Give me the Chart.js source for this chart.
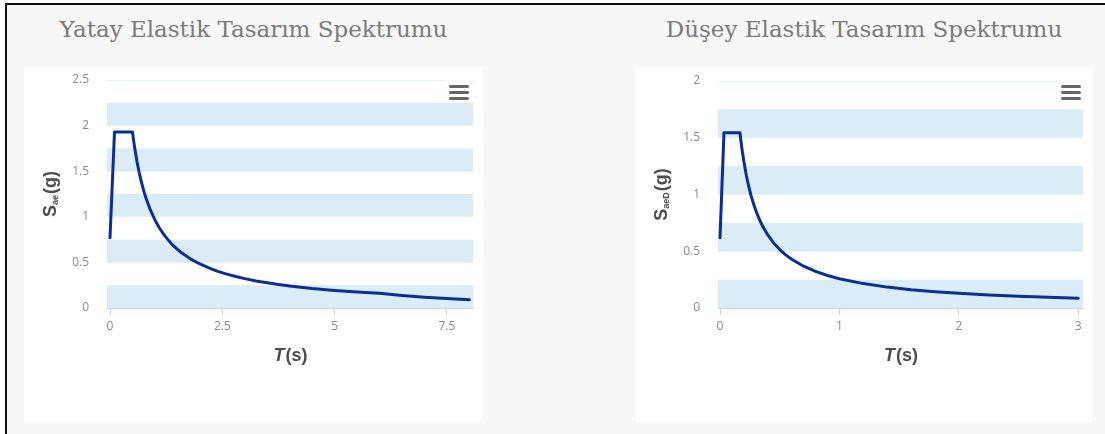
<!DOCTYPE html>
<html><head><meta charset="utf-8">
<script src="https://cdn.jsdelivr.net/npm/chart.js@4.4.1/dist/chart.umd.min.js"></script>
<style>
html,body{margin:0;padding:0;background:#fff;width:1105px;height:434px;overflow:hidden;}
#frame{position:absolute;left:5px;top:3px;width:1100px;height:431px;background:#f7f7f7;border-left:2px solid #111;border-top:2px solid #111;box-sizing:border-box;}
.panel{position:absolute;top:67px;height:355px;background:#fff;}
.panel canvas{position:absolute;left:0;top:0;}
.ttl{position:absolute;top:14px;height:30px;line-height:30px;font-family:'DejaVu Serif',serif;font-size:23px;color:#7b7b7b;text-align:center;white-space:nowrap;}
.menu{position:absolute;width:27px;height:24px;background:#fff;}
.menu i{position:absolute;left:4px;width:20px;height:3px;border-radius:1.5px;background:#666;}
</style></head>
<body>
<div id="frame"></div>
<div class="ttl" style="left:24px;width:459px;">Yatay Elastik Tasarım Spektrumu</div>
<div class="ttl" style="left:635px;width:458px;">Düşey Elastik Tasarım Spektrumu</div>
<div class="panel" style="left:24px;width:459px;"><canvas id="cH" width="459" height="355"></canvas></div>
<div class="panel" style="left:635px;width:458px;"><canvas id="cV" width="458" height="355"></canvas></div>
<div class="menu" style="left:445px;top:77px;"><i style="top:8px"></i><i style="top:14px"></i><i style="top:20px"></i></div>
<div class="menu" style="left:1057px;top:77px;"><i style="top:8px"></i><i style="top:14px"></i><i style="top:20px"></i></div>
<script>
// Horizontal elastic design spectrum
const tH = [0, 0.1, 0.5, 0.525, 0.55, 0.6, 0.65, 0.7, 0.75, 0.8, 0.9, 1.0, 1.1, 1.2, 1.3, 1.4, 1.5, 1.6, 1.8, 2.0, 2.2, 2.4, 2.6, 2.8, 3.0, 3.25, 3.5, 3.75, 4.0, 4.5, 5.0, 5.5, 6.0, 6.5, 7.0, 7.5, 8.0];
const saeH = [0.77, 1.93, 1.93, 1.838, 1.755, 1.608, 1.485, 1.379, 1.287, 1.206, 1.072, 0.965, 0.877, 0.804, 0.742, 0.689, 0.643, 0.603, 0.536, 0.483, 0.439, 0.402, 0.371, 0.345, 0.322, 0.297, 0.276, 0.257, 0.241, 0.214, 0.193, 0.175, 0.161, 0.137, 0.118, 0.103, 0.091];
// Vertical elastic design spectrum
const tV = [0, 0.033, 0.167, 0.175, 0.185, 0.2, 0.22, 0.24, 0.26, 0.28, 0.3, 0.33, 0.36, 0.4, 0.45, 0.5, 0.55, 0.6, 0.7, 0.8, 0.9, 1.0, 1.2, 1.4, 1.6, 1.8, 2.0, 2.25, 2.5, 2.75, 3.0];
const saeV = [0.62, 1.545, 1.545, 1.471, 1.392, 1.288, 1.170, 1.073, 0.990, 0.920, 0.858, 0.780, 0.715, 0.644, 0.572, 0.515, 0.468, 0.429, 0.368, 0.322, 0.286, 0.258, 0.215, 0.184, 0.161, 0.143, 0.129, 0.114, 0.103, 0.094, 0.086];
// axis ticks
const xTicksH = [0, 2.5, 5, 7.5];
const xTicksV = [0, 1, 2, 3];
const yMaxH = 2.5, yMaxV = 2;
const yStep = 0.5;
// alternating plot bands
const bandsH = [[0, 0.25], [0.5, 0.75], [1, 1.25], [1.5, 1.75], [2, 2.25]];
const bandsV = [[0, 0.25], [0.5, 0.75], [1, 1.25], [1.5, 1.75]];

const LINE = '#0c2e93';
const TICKC = '#8a8a8a';
const AXC = '#ccd6eb';

const bandPlugin = {
  id: 'bands',
  beforeDraw(chart, args, opts) {
    const {ctx, chartArea: a, scales: {y}} = chart;
    ctx.save();
    ctx.fillStyle = '#daedf7';
    for (const [from, to] of opts.bands) {
      const y1 = y.getPixelForValue(to), y0 = y.getPixelForValue(from);
      ctx.fillRect(a.left, y1, a.right - a.left, y0 - y1);
    }
    ctx.restore();
  }
};

const titlePlugin = {
  id: 'axtitles',
  afterDraw(chart, args, opts) {
    const {ctx, chartArea: a} = chart;
    ctx.save();
    ctx.fillStyle = '#4d4d4d';
    ctx.textBaseline = 'alphabetic';
    const big = 'bold 18px "Liberation Sans", Arial, sans-serif';
    const bigI = 'italic bold 18px "Liberation Sans", Arial, sans-serif';
    const small = 'bold 9px "Liberation Sans", Arial, sans-serif';
    ctx.font = big; const wS = ctx.measureText('S').width; const wG = ctx.measureText('(g)').width;
    ctx.font = small; const wSub = ctx.measureText(opts.sub).width;
    const tot = wS + wSub + 1 + wG;
    ctx.translate(opts.yTitleX, (a.top + a.bottom) / 2);
    ctx.rotate(-Math.PI / 2);
    let x = -tot / 2;
    ctx.font = big; ctx.fillText('S', x, 6); x += wS;
    ctx.font = small; ctx.fillText(opts.sub, x, 8); x += wSub + 1;
    ctx.font = big; ctx.fillText('(g)', x, 6);
    ctx.setTransform(1, 0, 0, 1, 0, 0);
    ctx.font = bigI; const wT = ctx.measureText('T').width;
    ctx.font = big; const wP = ctx.measureText('(s)').width;
    let xx = (a.left + a.right) / 2 - (wT + wP) / 2;
    const yy = opts.xTitleY;
    ctx.font = bigI; ctx.fillText('T', xx, yy); xx += wT + 1;
    ctx.font = big; ctx.fillText('(s)', xx, yy);
    ctx.restore();
  }
};

function makeChart(id, t, v, xTicks, xmin, xmax, ymax, bands, sub, padTop) {
  new Chart(document.getElementById(id), {
    type: 'line',
    data: { datasets: [{
      data: t.map((tt, i) => ({x: tt, y: v[i]})),
      borderColor: LINE, borderWidth: 3, pointRadius: 0, tension: 0,
      borderJoinStyle: 'round', borderCapStyle: 'round', fill: false
    }]},
    options: {
      responsive: false, animation: false, devicePixelRatio: 1,
      layout: { padding: { left: 0, right: 10, top: padTop, bottom: 0 } },
      plugins: {
        legend: { display: false }, tooltip: { enabled: false },
        bands: { bands }, axtitles: { sub, yTitleX: 26, xTitleY: 294 }
      },
      scales: {
        x: {
          type: 'linear', min: xmin, max: xmax,
          afterBuildTicks: s => { s.ticks = xTicks.map(val => ({value: val})); },
          afterFit: s => { s.height = 114; s.paddingLeft = 0; s.paddingRight = 0; },
          grid: { drawOnChartArea: false, drawTicks: true, tickLength: 7, color: AXC },
          border: { display: true, color: AXC, width: 1 },
          ticks: { color: TICKC, padding: 4, maxRotation: 0, font: { family: '"Open Sans", sans-serif', size: 12 },
                   callback: val => String(val) }
        },
        y: {
          type: 'linear', min: 0, max: ymax,
          ticks: { stepSize: yStep, color: TICKC, padding: 18, font: { family: '"Open Sans", sans-serif', size: 12 },
                   callback: val => String(+val.toFixed(2)) },
          afterFit: s => { s.width = 83; s.paddingTop = 0; s.paddingBottom = 0; },
          grid: { drawTicks: false, color: '#e4f1f9', lineWidth: 1 },
          border: { display: false }
        }
      }
    },
    plugins: [bandPlugin, titlePlugin]
  });
}
makeChart('cH', tH, saeH, xTicksH, -0.067, 8.08, yMaxH, bandsH, 'ae', 13);
makeChart('cV', tV, saeV, xTicksV, -0.017, 3.04, yMaxV, bandsV, 'aeD', 14);
</script>
</body></html>
